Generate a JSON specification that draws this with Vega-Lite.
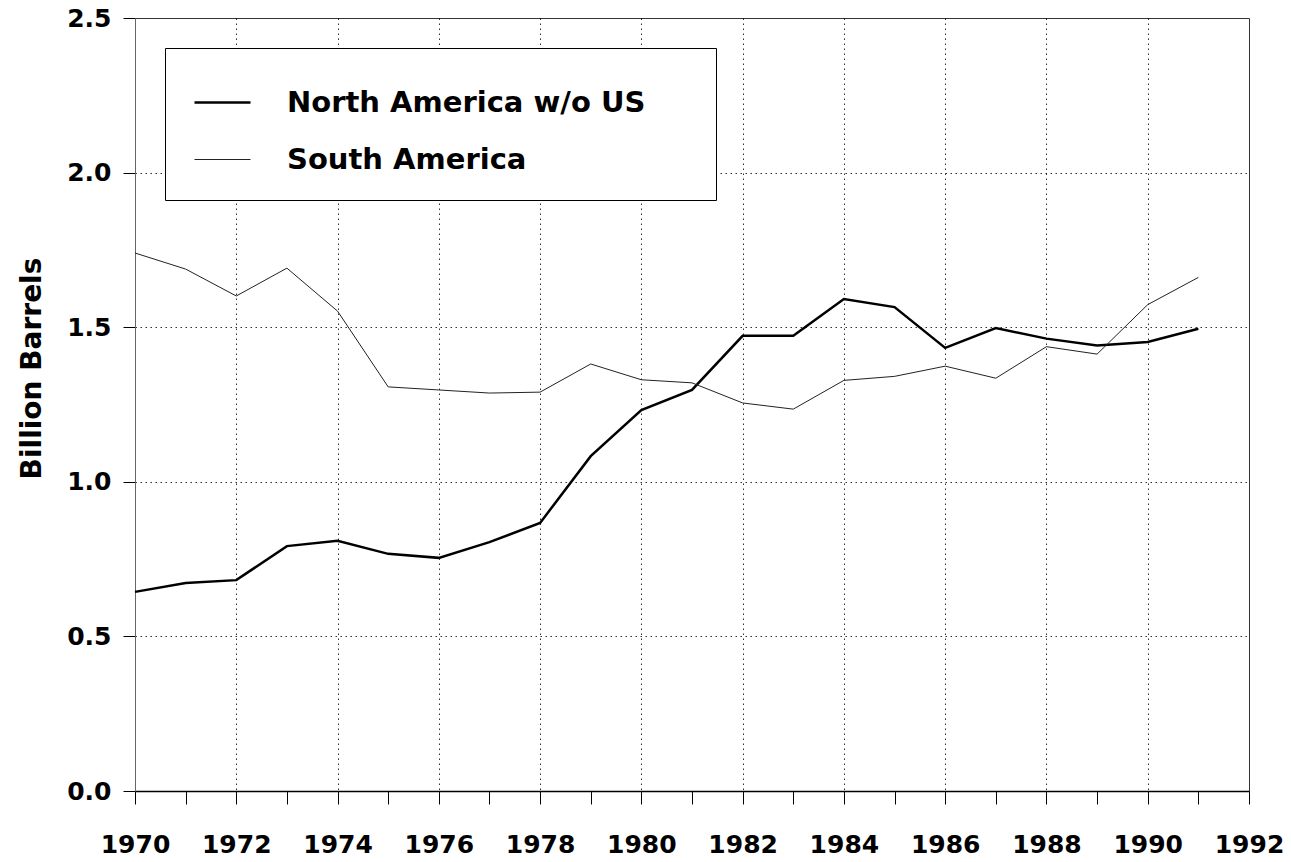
{
  "$schema": "https://vega.github.io/schema/vega-lite/v6.json",
  "width": 1114,
  "height": 773,
  "autosize": {"type": "none"},
  "padding": {"left": 135, "top": 18, "right": 42, "bottom": 71},
  "background": "white",
  "config": {
    "font": "DejaVu Sans",
    "view": {"stroke": "#333", "strokeWidth": 1},
    "axis": {
      "labelFont": "DejaVu Sans",
      "titleFont": "DejaVu Sans",
      "labelFontWeight": "bold",
      "labelColor": "black",
      "titleColor": "black",
      "domainColor": "black",
      "tickColor": "black",
      "gridColor": "black",
      "gridDash": [1.5, 3.5],
      "gridOpacity": 0.9
    }
  },
  "data": {
    "values": [
      {"year": 1970, "series": "North America w/o US", "value": 0.644},
      {"year": 1971, "series": "North America w/o US", "value": 0.673},
      {"year": 1972, "series": "North America w/o US", "value": 0.682},
      {"year": 1973, "series": "North America w/o US", "value": 0.792},
      {"year": 1974, "series": "North America w/o US", "value": 0.809},
      {"year": 1975, "series": "North America w/o US", "value": 0.767},
      {"year": 1976, "series": "North America w/o US", "value": 0.754},
      {"year": 1977, "series": "North America w/o US", "value": 0.805},
      {"year": 1978, "series": "North America w/o US", "value": 0.867},
      {"year": 1979, "series": "North America w/o US", "value": 1.083},
      {"year": 1980, "series": "North America w/o US", "value": 1.232},
      {"year": 1981, "series": "North America w/o US", "value": 1.297},
      {"year": 1982, "series": "North America w/o US", "value": 1.472},
      {"year": 1983, "series": "North America w/o US", "value": 1.472},
      {"year": 1984, "series": "North America w/o US", "value": 1.591},
      {"year": 1985, "series": "North America w/o US", "value": 1.565},
      {"year": 1986, "series": "North America w/o US", "value": 1.433},
      {"year": 1987, "series": "North America w/o US", "value": 1.497},
      {"year": 1988, "series": "North America w/o US", "value": 1.463},
      {"year": 1989, "series": "North America w/o US", "value": 1.441},
      {"year": 1990, "series": "North America w/o US", "value": 1.452},
      {"year": 1991, "series": "North America w/o US", "value": 1.495},
      {"year": 1970, "series": "South America", "value": 1.740},
      {"year": 1971, "series": "South America", "value": 1.688},
      {"year": 1972, "series": "South America", "value": 1.601},
      {"year": 1973, "series": "South America", "value": 1.691},
      {"year": 1974, "series": "South America", "value": 1.552},
      {"year": 1975, "series": "South America", "value": 1.307},
      {"year": 1976, "series": "South America", "value": 1.297},
      {"year": 1977, "series": "South America", "value": 1.287},
      {"year": 1978, "series": "South America", "value": 1.290},
      {"year": 1979, "series": "South America", "value": 1.381},
      {"year": 1980, "series": "South America", "value": 1.330},
      {"year": 1981, "series": "South America", "value": 1.320},
      {"year": 1982, "series": "South America", "value": 1.255},
      {"year": 1983, "series": "South America", "value": 1.235},
      {"year": 1984, "series": "South America", "value": 1.328},
      {"year": 1985, "series": "South America", "value": 1.341},
      {"year": 1986, "series": "South America", "value": 1.374},
      {"year": 1987, "series": "South America", "value": 1.335},
      {"year": 1988, "series": "South America", "value": 1.437},
      {"year": 1989, "series": "South America", "value": 1.413},
      {"year": 1990, "series": "South America", "value": 1.573},
      {"year": 1991, "series": "South America", "value": 1.661}
    ]
  },
  "mark": {"type": "line", "strokeJoin": "miter"},
  "encoding": {
    "x": {
      "field": "year",
      "type": "quantitative",
      "scale": {"domain": [1970, 1992], "nice": false, "zero": false},
      "axis": {
        "title": null,
        "values": [1970,1971,1972,1973,1974,1975,1976,1977,1978,1979,1980,1981,1982,1983,1984,1985,1986,1987,1988,1989,1990,1991,1992],
        "labelExpr": "datum.value % 2 === 0 ? datum.value : ''",
        "format": "d",
        "labelFontSize": 25,
        "labelPadding": 28,
        "labelBaseline": "top",
        "tickSize": 13,
        "labelFlush": false,
        "labelOverlap": false,
        "domainWidth": 1.5,
        "gridOpacity": {"condition": {"test": "datum.value % 2 === 1 || datum.value === 1970 || datum.value === 1992", "value": 0}, "value": 0.9}
      }
    },
    "y": {
      "field": "value",
      "type": "quantitative",
      "scale": {"domain": [0, 2.5], "nice": false},
      "axis": {
        "title": "Billion Barrels",
        "titleFontSize": 28,
        "titleFontWeight": "bold",
        "titlePadding": 20,
        "titleY": 350,
        "values": [0, 0.5, 1.0, 1.5, 2.0, 2.5],
        "format": ".1f",
        "labelFontSize": 25,
        "labelPadding": 12,
        "tickSize": 12,
        "domainColor": "#666",
        "gridOpacity": {"condition": {"test": "datum.value === 0 || datum.value === 2.5", "value": 0}, "value": 0.9}
      }
    },
    "color": {
      "field": "series",
      "type": "nominal",
      "scale": {"domain": ["North America w/o US", "South America"], "range": ["black", "#222"]},
      "legend": {
        "title": null,
        "orient": "none",
        "legendX": 30,
        "legendY": 30,
        "strokeColor": "black",
        "fillColor": "white",
        "padding": 25,
        "symbolType": "stroke",
        "symbolSize": 3136,
        "symbolOffset": 3,
        "labelOffset": 35,
        "labelFontSize": 29,
        "labelFontWeight": "bold",
        "labelFont": "DejaVu Sans",
        "labelColor": "black",
        "labelLimit": 600,
        "rowPadding": 13,
        "labelExpr": "datum.label + '\u2800\u2800'"
      }
    },
    "strokeWidth": {
      "field": "series",
      "type": "nominal",
      "scale": {"domain": ["North America w/o US", "South America"], "range": [2.5, 1]},
      "legend": {
        "title": null,
        "orient": "none",
        "legendX": 30,
        "legendY": 30,
        "strokeColor": "black",
        "fillColor": "white",
        "padding": 25,
        "symbolType": "stroke",
        "symbolSize": 3136,
        "symbolOffset": 3,
        "labelOffset": 35,
        "labelFontSize": 29,
        "labelFontWeight": "bold",
        "labelFont": "DejaVu Sans",
        "labelColor": "black",
        "labelLimit": 600,
        "rowPadding": 13,
        "labelExpr": "datum.label + '\u2800\u2800'"
      }
    }
  }
}
